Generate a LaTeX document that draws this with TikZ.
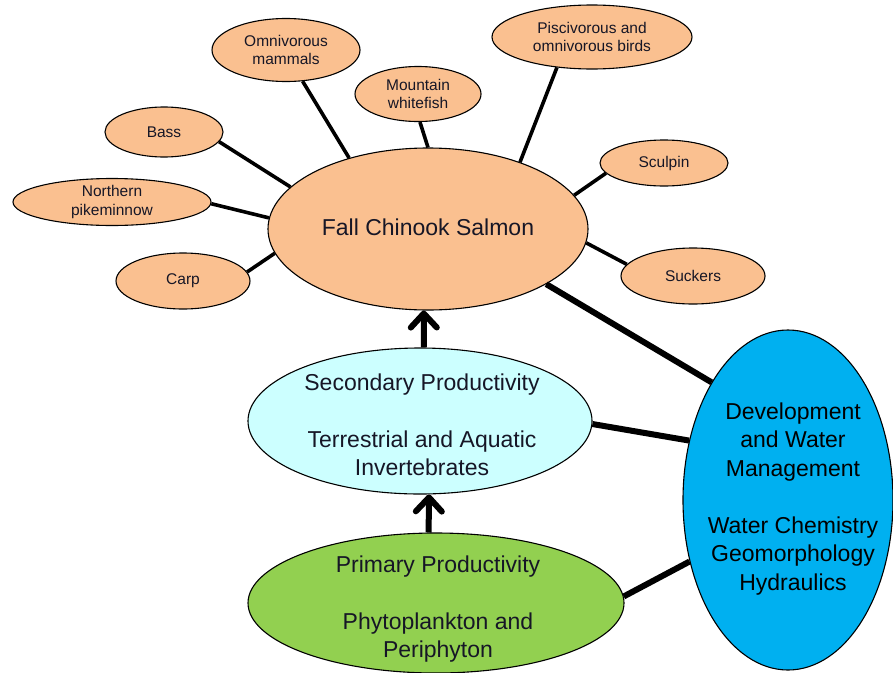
\documentclass[tikz,border=0pt]{standalone}
\usepackage{fontspec}
\setmainfont{Liberation Sans}
\usetikzlibrary{shapes.geometric,arrows.meta}
\definecolor{peach}{RGB}{250,192,144}
\definecolor{lcyan}{RGB}{204,255,255}
\definecolor{lgreen}{RGB}{146,208,80}
\definecolor{dblue}{RGB}{0,176,240}
\definecolor{txt}{RGB}{22,22,38}
\tikzset{
  ell/.style={ellipse, draw=black, line width=1.1pt, inner sep=0pt, align=center, text=txt},
  small/.style={ell, fill=peach, font=\fontsize{15.5}{18.5}\selectfont},
  big/.style={ell},
  bigtext/.style={align=center, inner sep=0pt, text=txt, font=\fontsize{23}{28.5}\selectfont},
  thin/.style={line width=3.6pt},
  thick/.style={line width=6pt},
  uparrow/.style={line width=6pt, -{Straight Barb[length=14pt,width=26pt,round]}}
}
\begin{document}
\begin{tikzpicture}[x=1pt,y=-1pt]
\useasboundingbox (0,0) rectangle (893,672);
% main nodes
\node[big, fill=peach, minimum width=320pt, minimum height=162pt] (fall) at (428,229) {};
\node[bigtext] (falltext) at (428,227) {Fall Chinook Salmon};
\node[big, fill=lcyan, minimum width=344pt, minimum height=146pt] (sec) at (420,421) {};
\node[bigtext] (sectext) at (422,425) {Secondary Productivity\\[28.5pt]Terrestrial and Aquatic\\Invertebrates};
\node[big, fill=lgreen, minimum width=376pt, minimum height=140pt] (prim) at (436,603) {};
\node[bigtext] (primtext) at (438,609) {Primary Productivity\\[28.5pt]Phytoplankton and\\Periphyton};
\node[big, fill=dblue, minimum width=210pt, minimum height=340pt] (dev) at (788,500) {};
\node[bigtext, text=black] (devtext) at (793,499) {Development\\and Water\\Management\\[28.5pt]Water Chemistry\\Geomorphology\\Hydraulics};
% small nodes
\node[small, minimum width=148pt, minimum height=63pt] (omn) at (286,50) {Omnivorous\\mammals};
\node[small, minimum width=126pt, minimum height=55pt] (mw) at (418,94) {Mountain\\whitefish};
\node[small, minimum width=200pt, minimum height=64pt] (pisc) at (592,37) {Piscivorous and\\omnivorous birds};
\node[small, minimum width=118pt, minimum height=50pt] (bass) at (164,132) {Bass};
\node[small, minimum width=198pt, minimum height=47pt] (nor) at (112,202) {Northern\\pikeminnow};
\node[small, minimum width=134pt, minimum height=56pt] (carp) at (183,281) {Carp};
\node[small, minimum width=128pt, minimum height=46pt] (scul) at (664,163) {Sculpin};
\node[small, minimum width=144pt, minimum height=56pt] (suck) at (693,276) {Suckers};
% thin connectors
\draw[thin] (omn.-62.7) -- (fall.138.4);
\draw[thin] (mw.-86) -- (fall.90);
\draw[thin] (bass.-10) -- (fall.163.3);
\draw[thin] (nor.-1) -- (fall.176.7);
\draw[thin] (carp.8) -- (fall.189.5);
\draw[thin] (pisc.221.5) -- (fall.36.9);
\draw[thin] (scul.190) -- (fall.13.8);
\draw[thin] (suck.170.2) -- (fall.-5.9);
% thick connectors
\draw[thick] (fall.-25) -- (dev.123.1);
\draw[thick] (sec.-1.3) -- (dev.149.4);
\draw[thick] (prim.2.5) -- (dev.212.3);
% arrows
\draw[uparrow] (sec.87.6) -- (fall.-93.5);
\draw[uparrow] (prim.96.5) -- (sec.-83.8);
\end{tikzpicture}
\end{document}
